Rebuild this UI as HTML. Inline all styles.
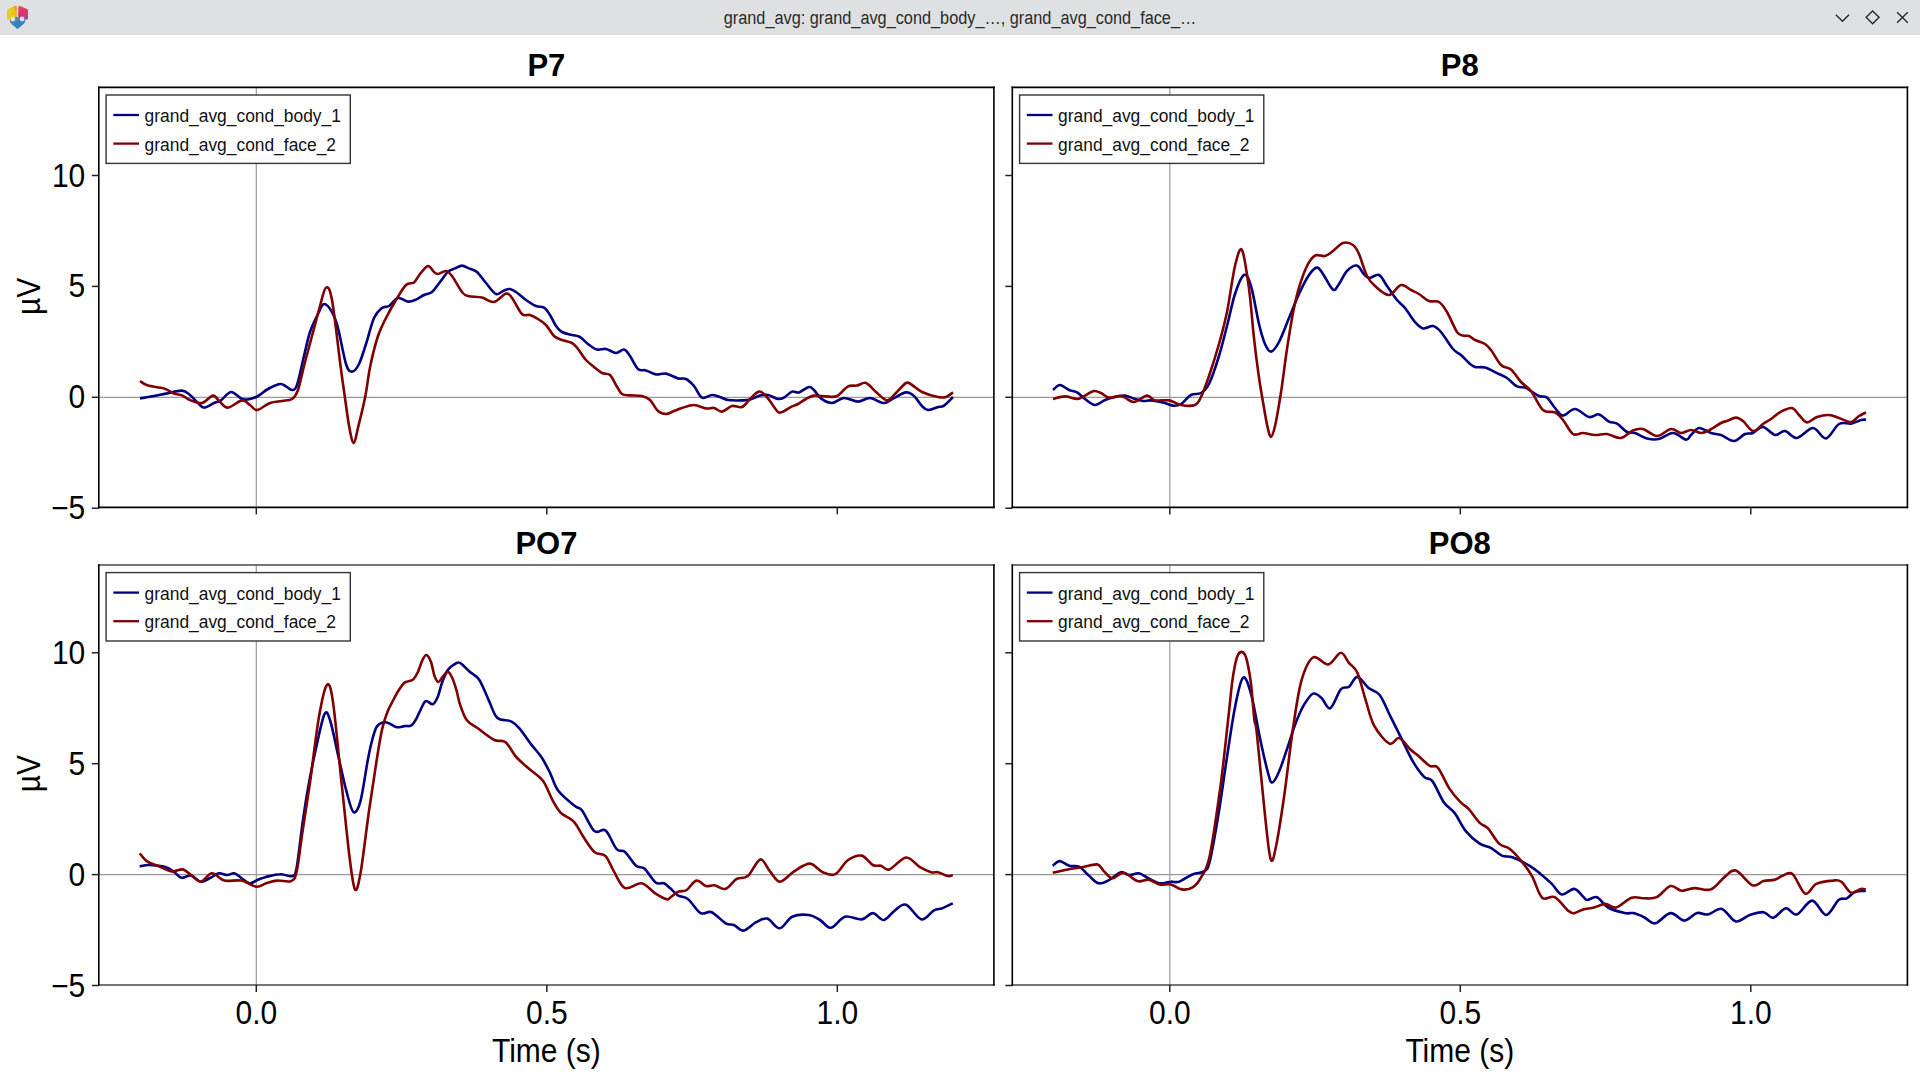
<!DOCTYPE html>
<html><head><meta charset="utf-8">
<style>
html,body{margin:0;padding:0;background:#fff;}
body{width:1920px;height:1080px;overflow:hidden;position:relative;font-family:"Liberation Sans", sans-serif;}
#tb{position:absolute;left:0;top:0;width:1920px;height:35px;background:#dfe0e2;}
#tt{position:absolute;left:0;top:1px;transform:scale(1,1.08);transform-origin:50% 22px;width:1920px;height:35px;line-height:35px;text-align:center;font-size:16.3px;color:#2a2a2a;font-family:"Liberation Sans", sans-serif;}
#plots{position:absolute;left:0;top:0;}
</style></head><body>
<div id="tb"><svg width="36" height="35" viewBox="0 0 36 35" style="position:absolute;left:0;top:0">
<defs>
<linearGradient id="gy" x1="0.2" y1="0.3" x2="1" y2="0"><stop offset="0" stop-color="#e9cf1c"/><stop offset="0.55" stop-color="#e6c51e"/><stop offset="1" stop-color="#ee7f3a"/></linearGradient>
<linearGradient id="gp" x1="0" y1="0" x2="0.3" y2="1"><stop offset="0" stop-color="#ec5a4c"/><stop offset="0.45" stop-color="#e2336a"/><stop offset="1" stop-color="#b8407e"/></linearGradient>
<linearGradient id="gb" x1="0" y1="0.3" x2="0.6" y2="1"><stop offset="0" stop-color="#6f9a4e"/><stop offset="0.35" stop-color="#3a86c4"/><stop offset="1" stop-color="#2f7fc2"/></linearGradient>
</defs>
<path d="M7,10.3 Q7,9.6 7.8,9.2 L14.6,6.1 Q16.9,5.4 16.9,7.2 L16.9,19.8 L9,19.8 Q7,19.8 7,18.6 Z" fill="url(#gy)"/>
<path d="M18.1,7.2 Q18.1,5.4 20.4,6.1 L27.2,9.2 Q28,9.6 28,10.3 L28,18.6 Q28,19.8 26,19.8 L18.1,19.8 Z" fill="url(#gp)"/>
<path d="M9.8,21.3 Q9.8,18.2 12,17.5 L17.5,16.8 L23,17.5 Q25.2,18.2 25.2,21.3 Q25.2,22.6 24,23.4 L18.3,28.4 Q17.5,29 16.7,28.4 L11,23.4 Q9.8,22.6 9.8,21.3 Z" fill="url(#gb)"/>
<circle cx="12.9" cy="19.1" r="2.4" fill="#dfe0e2"/>
<circle cx="22.1" cy="19.0" r="2.4" fill="#dfe0e2"/>
<circle cx="17.4" cy="11" r="0.9" fill="#dfe0e2"/>
<rect x="16.9" y="5" width="1.2" height="12" fill="#dfe0e2"/>
</svg><div id="tt">grand_avg: grand_avg_cond_body_…, grand_avg_cond_face_…</div><svg width="100" height="35" viewBox="0 0 100 35" style="position:absolute;left:1820px;top:0">
<path d="M15.8,14.7 L22.5,21.2 L29.0,14.7" fill="none" stroke="#232629" stroke-width="1.35"/>
<path d="M52.6,10.9 L59.1,17.35 L52.6,23.8 L46.1,17.35 Z" fill="none" stroke="#232629" stroke-width="1.35"/>
<path d="M77.1,12.3 L87.8,22.8 M87.8,12.3 L77.1,22.8" fill="none" stroke="#232629" stroke-width="1.35"/>
</svg></div>
<svg id="plots" width="1920" height="1080" viewBox="0 0 1920 1080" style="top:0" font-family='"Liberation Sans", sans-serif'>
<line x1="98.8" y1="397.3" x2="993.9" y2="397.3" stroke="#9a9a9a" stroke-width="1.2"/>
<line x1="256.3" y1="87.4" x2="256.3" y2="507.4" stroke="#9a9a9a" stroke-width="1.2"/>
<path d="M140.0,398.4 C142.3,398.0 149.7,396.8 154.0,396.0 C158.3,395.2 161.3,394.5 166.0,393.6 C170.7,392.7 178.0,390.4 182.0,390.6 C186.0,390.8 187.3,392.9 190.0,395.0 C192.7,397.1 195.7,400.9 198.0,403.0 C200.3,405.1 201.3,407.6 204.0,407.6 C206.7,407.6 211.2,404.2 214.0,403.0 C216.8,401.8 218.2,402.2 221.0,400.4 C223.8,398.6 227.5,392.2 231.0,392.0 C234.5,391.8 238.8,397.8 242.0,399.0 C245.2,400.2 247.3,399.5 250.0,399.0 C252.7,398.5 255.0,397.7 258.0,396.0 C261.0,394.3 264.3,391.0 268.0,389.0 C271.7,387.0 277.0,384.4 280.0,384.0 C283.0,383.6 284.0,385.4 286.0,386.4 C288.0,387.4 290.2,390.2 292.0,390.0 C293.8,389.8 295.0,390.7 297.0,385.0 C299.0,379.3 301.8,364.8 304.0,356.0 C306.2,347.2 307.7,339.0 310.0,332.0 C312.3,325.0 315.7,318.7 318.0,314.0 C320.3,309.3 321.7,304.3 324.0,304.0 C326.3,303.7 329.7,308.0 332.0,312.0 C334.3,316.0 335.7,319.3 338.0,328.0 C340.3,336.7 343.7,356.7 346.0,364.0 C348.3,371.3 349.8,371.6 352.0,371.6 C354.2,371.6 356.7,368.6 359.0,364.0 C361.3,359.4 363.5,351.7 366.0,344.0 C368.5,336.3 371.3,324.0 374.0,318.0 C376.7,312.0 379.5,310.0 382.0,308.0 C384.5,306.0 386.3,307.7 389.0,306.0 C391.7,304.3 394.8,298.7 398.0,298.0 C401.2,297.3 405.0,301.3 408.0,301.6 C411.0,301.9 413.3,300.7 416.0,299.6 C418.7,298.5 421.3,296.3 424.0,295.0 C426.7,293.7 429.3,294.2 432.0,292.0 C434.7,289.8 437.3,285.4 440.0,282.0 C442.7,278.6 445.5,273.9 448.0,271.6 C450.5,269.3 452.7,269.4 455.0,268.4 C457.3,267.4 459.7,265.6 462.0,265.6 C464.3,265.6 466.5,267.3 469.0,268.4 C471.5,269.5 474.2,269.6 477.0,272.0 C479.8,274.4 482.8,279.3 486.0,283.0 C489.2,286.7 493.0,292.8 496.0,294.0 C499.0,295.2 501.7,291.2 504.0,290.4 C506.3,289.6 508.0,288.7 510.0,289.0 C512.0,289.3 513.3,290.2 516.0,292.0 C518.7,293.8 522.7,297.7 526.0,300.0 C529.3,302.3 533.0,304.7 536.0,306.0 C539.0,307.3 541.7,306.1 544.0,307.6 C546.3,309.1 548.0,311.9 550.0,315.0 C552.0,318.1 554.0,323.2 556.0,326.0 C558.0,328.8 559.3,330.5 562.0,332.0 C564.7,333.5 569.0,334.2 572.0,335.0 C575.0,335.8 577.3,335.5 580.0,337.0 C582.7,338.5 585.2,341.9 588.0,344.0 C590.8,346.1 594.0,348.8 597.0,349.6 C600.0,350.4 602.8,348.4 606.0,349.0 C609.2,349.6 613.0,352.9 616.0,353.0 C619.0,353.1 621.7,349.1 624.0,349.6 C626.3,350.1 627.7,352.8 630.0,356.0 C632.3,359.2 635.3,366.6 638.0,369.0 C640.7,371.4 643.0,369.5 646.0,370.4 C649.0,371.3 652.7,373.9 656.0,374.4 C659.3,374.9 662.3,372.9 666.0,373.6 C669.7,374.3 674.7,377.5 678.0,378.4 C681.3,379.3 683.3,377.7 686.0,379.0 C688.7,380.3 691.3,382.9 694.0,386.0 C696.7,389.1 699.0,396.1 702.0,397.6 C705.0,399.1 709.0,395.1 712.0,395.0 C715.0,394.9 717.3,396.2 720.0,397.0 C722.7,397.8 724.3,399.4 728.0,400.0 C731.7,400.6 738.3,400.5 742.0,400.4 C745.7,400.3 747.0,400.4 750.0,399.6 C753.0,398.8 757.0,396.4 760.0,395.6 C763.0,394.8 765.0,394.4 768.0,395.0 C771.0,395.6 775.3,398.6 778.0,399.0 C780.7,399.4 781.7,398.8 784.0,397.6 C786.3,396.4 789.5,392.5 792.0,391.6 C794.5,390.7 796.2,393.2 799.0,392.4 C801.8,391.6 806.5,387.4 809.0,387.0 C811.5,386.6 812.0,388.1 814.0,390.0 C816.0,391.9 818.0,396.2 821.0,398.4 C824.0,400.6 828.2,403.1 832.0,403.0 C835.8,402.9 839.7,398.2 844.0,398.0 C848.3,397.8 853.7,401.6 858.0,401.6 C862.3,401.6 865.7,397.8 870.0,398.0 C874.3,398.2 880.0,403.0 884.0,403.0 C888.0,403.0 890.3,399.8 894.0,398.0 C897.7,396.2 902.7,392.7 906.0,392.4 C909.3,392.1 911.3,393.7 914.0,396.0 C916.7,398.3 919.7,403.7 922.0,406.0 C924.3,408.3 925.3,409.8 928.0,410.0 C930.7,410.2 935.3,407.7 938.0,407.0 C940.7,406.3 941.5,407.3 944.0,405.6 C946.5,403.9 951.5,398.4 953.0,397.0" fill="none" stroke="#000080" stroke-width="2.6" stroke-linejoin="round"/>
<path d="M140.0,381.0 C141.3,381.8 144.0,384.4 148.0,385.6 C152.0,386.8 159.7,387.1 164.0,388.4 C168.3,389.7 171.0,392.4 174.0,393.6 C177.0,394.8 179.3,394.3 182.0,395.4 C184.7,396.5 186.7,398.7 190.0,400.0 C193.3,401.3 198.2,403.7 202.0,403.0 C205.8,402.3 210.0,395.8 213.0,395.6 C216.0,395.4 217.5,400.0 220.0,402.0 C222.5,404.0 224.3,407.9 228.0,407.6 C231.7,407.3 238.3,400.8 242.0,400.4 C245.7,400.0 247.5,403.4 250.0,405.0 C252.5,406.6 253.7,410.3 257.0,410.0 C260.3,409.7 265.8,404.5 270.0,403.0 C274.2,401.5 278.3,401.7 282.0,401.0 C285.7,400.3 289.3,400.8 292.0,399.0 C294.7,397.2 296.0,395.5 298.0,390.0 C300.0,384.5 301.7,375.0 304.0,366.0 C306.3,357.0 309.3,346.0 312.0,336.0 C314.7,326.0 317.7,314.1 320.0,306.0 C322.3,297.9 324.0,288.6 326.0,287.6 C328.0,286.6 329.6,287.0 332.0,300.0 C334.4,313.0 338.4,349.4 340.5,365.6 C342.6,381.8 343.4,387.0 344.9,397.3 C346.4,407.6 347.8,419.7 349.3,427.3 C350.8,434.9 352.2,443.1 353.7,443.1 C355.2,443.1 356.2,434.9 358.1,427.3 C360.0,419.7 363.1,407.6 365.1,397.3 C367.2,387.0 368.2,375.8 370.4,365.6 C372.5,355.4 375.4,343.9 378.0,336.0 C380.6,328.1 383.0,324.0 386.0,318.0 C389.0,312.0 392.7,305.5 396.0,300.0 C399.3,294.5 403.0,287.9 406.0,285.0 C409.0,282.1 411.7,284.2 414.0,282.4 C416.3,280.6 417.7,276.7 420.0,274.0 C422.3,271.3 425.7,266.3 428.0,266.0 C430.3,265.7 432.3,270.7 434.0,272.0 C435.7,273.3 436.0,274.2 438.0,274.0 C440.0,273.8 443.7,270.7 446.0,271.0 C448.3,271.3 449.3,272.5 452.0,276.0 C454.7,279.5 459.3,288.7 462.0,292.0 C464.7,295.3 464.7,295.1 468.0,296.0 C471.3,296.9 477.7,296.6 482.0,297.6 C486.3,298.6 490.0,302.7 494.0,302.0 C498.0,301.3 503.0,294.3 506.0,293.6 C509.0,292.9 509.3,294.6 512.0,298.0 C514.7,301.4 519.0,311.2 522.0,314.0 C525.0,316.8 527.3,314.2 530.0,315.0 C532.7,315.8 535.3,317.3 538.0,319.0 C540.7,320.7 543.3,322.2 546.0,325.0 C548.7,327.8 551.3,333.5 554.0,336.0 C556.7,338.5 559.0,338.8 562.0,340.0 C565.0,341.2 569.3,341.5 572.0,343.0 C574.7,344.5 575.7,346.2 578.0,349.0 C580.3,351.8 583.3,357.0 586.0,360.0 C588.7,363.0 591.3,364.8 594.0,367.0 C596.7,369.2 599.3,371.7 602.0,373.0 C604.7,374.3 607.7,373.0 610.0,375.0 C612.3,377.0 614.0,381.8 616.0,385.0 C618.0,388.2 619.7,392.3 622.0,394.0 C624.3,395.7 626.7,395.1 630.0,395.4 C633.3,395.7 638.7,395.2 642.0,396.0 C645.3,396.8 647.3,397.5 650.0,400.0 C652.7,402.5 655.3,408.7 658.0,411.0 C660.7,413.3 663.3,414.0 666.0,414.0 C668.7,414.0 671.3,412.0 674.0,411.0 C676.7,410.0 678.7,409.0 682.0,408.0 C685.3,407.0 690.0,404.9 694.0,405.0 C698.0,405.1 702.7,407.9 706.0,408.4 C709.3,408.9 711.3,407.5 714.0,408.0 C716.7,408.5 719.0,411.9 722.0,411.6 C725.0,411.3 728.7,406.8 732.0,406.0 C735.3,405.2 739.0,408.2 742.0,407.0 C745.0,405.8 747.2,401.6 750.0,399.0 C752.8,396.4 756.3,392.1 759.0,391.6 C761.7,391.1 763.8,393.9 766.0,396.0 C768.2,398.1 770.0,401.3 772.0,404.0 C774.0,406.7 776.3,410.7 778.0,412.0 C779.7,413.3 779.7,412.9 782.0,412.0 C784.3,411.1 789.3,407.7 792.0,406.4 C794.7,405.1 795.7,405.2 798.0,404.0 C800.3,402.8 803.3,400.4 806.0,399.0 C808.7,397.6 810.7,396.0 814.0,395.6 C817.3,395.2 822.2,396.3 826.0,396.4 C829.8,396.5 833.3,397.7 837.0,396.0 C840.7,394.3 844.7,388.1 848.0,386.4 C851.3,384.7 854.0,386.2 857.0,385.6 C860.0,385.0 862.8,381.9 866.0,383.0 C869.2,384.1 872.5,389.1 876.0,392.0 C879.5,394.9 883.8,400.1 887.0,400.4 C890.2,400.7 891.8,396.9 895.0,394.0 C898.2,391.1 903.2,384.5 906.0,383.0 C908.8,381.5 909.3,383.5 912.0,385.0 C914.7,386.5 917.7,390.0 922.0,392.0 C926.3,394.0 934.0,396.2 938.0,397.0 C942.0,397.8 943.5,397.8 946.0,397.0 C948.5,396.2 951.8,393.2 953.0,392.4" fill="none" stroke="#800000" stroke-width="2.6" stroke-linejoin="round"/>
<path d="M98.8,87.4 H993.9 M98.8,507.4 H993.9" stroke="#000" stroke-width="1.6" stroke-linecap="square"/>
<path d="M98.8,87.4 V507.4 M993.9,87.4 V507.4" stroke="#000" stroke-width="1.6" stroke-linecap="square"/>
<line x1="91.8" y1="175.5" x2="98.8" y2="175.5" stroke="#222" stroke-width="1.5"/>
<text transform="translate(85.3,186.5) scale(1,1.09)" text-anchor="end" font-size="30" fill="#000">10</text>
<line x1="91.8" y1="286.4" x2="98.8" y2="286.4" stroke="#222" stroke-width="1.5"/>
<text transform="translate(85.3,297.4) scale(1,1.09)" text-anchor="end" font-size="30" fill="#000">5</text>
<line x1="91.8" y1="397.3" x2="98.8" y2="397.3" stroke="#222" stroke-width="1.5"/>
<text transform="translate(85.3,408.3) scale(1,1.09)" text-anchor="end" font-size="30" fill="#000">0</text>
<line x1="91.8" y1="508.2" x2="98.8" y2="508.2" stroke="#222" stroke-width="1.5"/>
<text transform="translate(85.3,519.2) scale(1,1.09)" text-anchor="end" font-size="30" fill="#000">−5</text>
<line x1="256.3" y1="507.4" x2="256.3" y2="514.4" stroke="#222" stroke-width="1.5"/>
<line x1="546.8" y1="507.4" x2="546.8" y2="514.4" stroke="#222" stroke-width="1.5"/>
<line x1="837.3" y1="507.4" x2="837.3" y2="514.4" stroke="#222" stroke-width="1.5"/>
<text x="0" y="0" transform="translate(39.5,296.3) rotate(-90) scale(1,1.09)" text-anchor="middle" font-size="30" fill="#000">µV</text>
<text x="546.4" y="76.4" text-anchor="middle" font-size="31" font-weight="bold" fill="#000">P7</text>
<rect x="106.1" y="95.0" width="244.2" height="68.4" fill="#fff" stroke="#333" stroke-width="1.4"/>
<line x1="113.3" y1="115.0" x2="139.0" y2="115.0" stroke="#000080" stroke-width="2.3"/>
<line x1="113.3" y1="143.6" x2="139.0" y2="143.6" stroke="#800000" stroke-width="2.3"/>
<text transform="translate(144.6,121.9) scale(1,1.09)" font-size="17.4" fill="#111">grand_avg_cond_body_1</text>
<text transform="translate(144.6,150.5) scale(1,1.09)" font-size="17.4" fill="#111">grand_avg_cond_face_2</text>
<line x1="1012.3" y1="397.3" x2="1907.4" y2="397.3" stroke="#9a9a9a" stroke-width="1.2"/>
<line x1="1169.8" y1="87.4" x2="1169.8" y2="507.4" stroke="#9a9a9a" stroke-width="1.2"/>
<path d="M1053.0,390.0 C1054.2,389.2 1057.3,385.0 1060.0,385.0 C1062.7,385.0 1066.2,388.8 1069.0,390.0 C1071.8,391.2 1074.3,390.9 1077.0,392.4 C1079.7,393.9 1082.0,396.9 1085.0,399.0 C1088.0,401.1 1091.7,404.8 1095.0,405.0 C1098.3,405.2 1101.7,401.3 1105.0,400.0 C1108.3,398.7 1111.7,397.7 1115.0,397.0 C1118.3,396.3 1121.7,395.3 1125.0,395.6 C1128.3,395.9 1132.0,398.1 1135.0,399.0 C1138.0,399.9 1140.3,400.8 1143.0,401.0 C1145.7,401.2 1147.7,400.2 1151.0,400.4 C1154.3,400.6 1159.3,401.5 1163.0,402.4 C1166.7,403.3 1170.0,405.3 1173.0,405.6 C1176.0,405.9 1178.0,405.8 1181.0,404.0 C1184.0,402.2 1187.7,396.8 1191.0,395.0 C1194.3,393.2 1198.0,394.8 1201.0,393.0 C1204.0,391.2 1206.0,390.2 1209.0,384.0 C1212.0,377.8 1216.0,365.7 1219.0,356.0 C1222.0,346.3 1224.3,336.3 1227.0,326.0 C1229.7,315.7 1232.2,302.5 1235.0,294.0 C1237.8,285.5 1241.3,276.3 1244.0,275.0 C1246.7,273.7 1248.5,277.8 1251.0,286.0 C1253.5,294.2 1256.7,314.3 1259.0,324.0 C1261.3,333.7 1263.0,339.4 1265.0,344.0 C1267.0,348.6 1268.7,351.9 1271.0,351.6 C1273.3,351.3 1276.0,347.6 1279.0,342.0 C1282.0,336.4 1285.7,326.0 1289.0,318.0 C1292.3,310.0 1295.7,301.2 1299.0,294.0 C1302.3,286.8 1306.0,279.4 1309.0,275.0 C1312.0,270.6 1314.7,267.8 1317.0,267.6 C1319.3,267.4 1320.3,270.3 1323.0,274.0 C1325.7,277.7 1330.3,287.9 1333.0,289.6 C1335.7,291.3 1336.7,287.1 1339.0,284.0 C1341.3,280.9 1344.0,274.1 1347.0,271.0 C1350.0,267.9 1354.3,265.3 1357.0,265.6 C1359.7,265.9 1361.0,270.9 1363.0,273.0 C1365.0,275.1 1366.3,277.7 1369.0,278.0 C1371.7,278.3 1376.0,273.7 1379.0,275.0 C1382.0,276.3 1384.0,281.8 1387.0,286.0 C1390.0,290.2 1394.0,296.3 1397.0,300.0 C1400.0,303.7 1402.0,304.3 1405.0,308.0 C1408.0,311.7 1412.0,318.6 1415.0,322.0 C1418.0,325.4 1420.0,327.7 1423.0,328.4 C1426.0,329.1 1430.0,325.4 1433.0,326.0 C1436.0,326.6 1437.7,328.2 1441.0,332.0 C1444.3,335.8 1449.7,345.2 1453.0,349.0 C1456.3,352.8 1458.3,352.7 1461.0,355.0 C1463.7,357.3 1466.7,361.0 1469.0,363.0 C1471.3,365.0 1472.3,366.2 1475.0,367.0 C1477.7,367.8 1481.0,366.4 1485.0,367.6 C1489.0,368.8 1495.3,372.3 1499.0,374.0 C1502.7,375.7 1504.0,375.9 1507.0,378.0 C1510.0,380.1 1514.0,384.8 1517.0,386.4 C1520.0,388.0 1522.7,386.8 1525.0,387.6 C1527.3,388.4 1528.7,389.6 1531.0,391.0 C1533.3,392.4 1536.3,394.9 1539.0,396.0 C1541.7,397.1 1544.3,395.6 1547.0,397.6 C1549.7,399.6 1552.3,405.0 1555.0,408.0 C1557.7,411.0 1559.7,415.4 1563.0,415.6 C1566.3,415.8 1570.7,408.8 1575.0,409.0 C1579.3,409.2 1585.0,416.1 1589.0,417.0 C1593.0,417.9 1595.7,413.6 1599.0,414.4 C1602.3,415.2 1606.0,420.1 1609.0,421.6 C1612.0,423.1 1614.0,421.9 1617.0,423.6 C1620.0,425.3 1624.0,430.4 1627.0,432.0 C1630.0,433.6 1631.7,431.9 1635.0,433.0 C1638.3,434.1 1643.0,437.4 1647.0,438.4 C1651.0,439.4 1654.7,439.9 1659.0,439.0 C1663.3,438.1 1668.5,432.9 1673.0,433.0 C1677.5,433.1 1683.0,439.3 1686.0,439.6 C1689.0,439.9 1688.8,436.9 1691.0,435.0 C1693.2,433.1 1695.7,428.3 1699.0,428.0 C1702.3,427.7 1707.3,431.8 1711.0,433.0 C1714.7,434.2 1717.2,433.7 1721.0,435.0 C1724.8,436.3 1730.0,441.2 1734.0,441.0 C1738.0,440.8 1741.8,435.3 1745.0,434.0 C1748.2,432.7 1750.0,434.2 1753.0,433.0 C1756.0,431.8 1759.3,426.7 1763.0,427.0 C1766.7,427.3 1771.3,434.3 1775.0,435.0 C1778.7,435.7 1781.3,430.5 1785.0,431.0 C1788.7,431.5 1792.3,438.5 1797.0,438.0 C1801.7,437.5 1808.2,427.9 1813.0,428.0 C1817.8,428.1 1821.7,439.1 1826.0,438.4 C1830.3,437.7 1834.8,426.5 1839.0,424.0 C1843.2,421.5 1847.3,424.3 1851.0,423.6 C1854.7,422.9 1858.5,420.7 1861.0,420.0 C1863.5,419.3 1865.2,419.7 1866.0,419.6" fill="none" stroke="#000080" stroke-width="2.6" stroke-linejoin="round"/>
<path d="M1053.0,399.0 C1055.0,398.6 1061.0,396.4 1065.0,396.4 C1069.0,396.4 1073.7,399.1 1077.0,399.0 C1080.3,398.9 1082.2,396.9 1085.0,395.6 C1087.8,394.3 1091.3,391.4 1094.0,391.0 C1096.7,390.6 1098.5,391.9 1101.0,393.0 C1103.5,394.1 1106.0,397.1 1109.0,397.6 C1112.0,398.1 1116.3,396.0 1119.0,396.0 C1121.7,396.0 1122.5,396.6 1125.0,397.6 C1127.5,398.6 1130.3,402.3 1134.0,402.0 C1137.7,401.7 1143.5,395.9 1147.0,395.6 C1150.5,395.3 1151.3,399.6 1155.0,400.4 C1158.7,401.2 1164.7,399.6 1169.0,400.4 C1173.3,401.2 1176.7,404.2 1181.0,405.0 C1185.3,405.8 1191.7,406.3 1195.0,405.0 C1198.3,403.7 1198.7,401.8 1201.0,397.0 C1203.3,392.2 1206.0,384.8 1209.0,376.0 C1212.0,367.2 1216.0,354.7 1219.0,344.0 C1222.0,333.3 1224.3,325.0 1227.0,312.0 C1229.7,299.0 1232.5,276.3 1235.0,266.0 C1237.5,255.7 1239.7,246.2 1242.0,250.0 C1244.3,253.8 1247.0,274.1 1249.0,288.6 C1251.0,303.2 1252.3,322.7 1253.9,337.3 C1255.5,351.9 1257.2,364.9 1258.8,376.2 C1260.4,387.5 1262.1,397.0 1263.6,405.4 C1265.0,413.8 1266.3,421.6 1267.5,426.8 C1268.7,432.1 1269.7,437.2 1271.0,436.9 C1272.3,436.6 1273.6,432.3 1275.3,424.8 C1277.0,417.3 1279.1,404.4 1281.1,391.8 C1283.0,379.2 1285.0,362.0 1287.0,349.0 C1289.0,336.0 1290.8,324.0 1292.8,313.9 C1294.8,303.8 1296.3,296.6 1298.7,288.6 C1301.1,280.6 1304.3,271.5 1307.0,266.0 C1309.7,260.5 1312.0,257.3 1315.0,255.6 C1318.0,253.9 1322.0,256.8 1325.0,256.0 C1328.0,255.2 1330.0,253.2 1333.0,251.0 C1336.0,248.8 1339.7,244.0 1343.0,243.0 C1346.3,242.0 1350.3,243.2 1353.0,245.0 C1355.7,246.8 1356.7,248.8 1359.0,254.0 C1361.3,259.2 1364.3,270.7 1367.0,276.0 C1369.7,281.3 1371.3,282.8 1375.0,286.0 C1378.7,289.2 1384.7,295.2 1389.0,295.0 C1393.3,294.8 1397.3,285.8 1401.0,285.0 C1404.7,284.2 1408.0,288.5 1411.0,290.0 C1414.0,291.5 1416.0,292.2 1419.0,294.0 C1422.0,295.8 1425.7,299.7 1429.0,301.0 C1432.3,302.3 1436.0,300.2 1439.0,302.0 C1442.0,303.8 1444.0,307.0 1447.0,312.0 C1450.0,317.0 1454.3,328.1 1457.0,332.0 C1459.7,335.9 1461.0,334.9 1463.0,335.6 C1465.0,336.3 1467.0,335.3 1469.0,336.0 C1471.0,336.7 1472.3,338.7 1475.0,340.0 C1477.7,341.3 1482.3,342.3 1485.0,344.0 C1487.7,345.7 1488.3,346.5 1491.0,350.0 C1493.7,353.5 1497.7,361.7 1501.0,365.0 C1504.3,368.3 1507.7,366.8 1511.0,369.6 C1514.3,372.4 1517.7,378.4 1521.0,382.0 C1524.3,385.6 1527.3,386.3 1531.0,391.0 C1534.7,395.7 1539.0,406.4 1543.0,410.0 C1547.0,413.6 1551.7,410.7 1555.0,412.4 C1558.3,414.1 1560.0,416.4 1563.0,420.0 C1566.0,423.6 1569.7,431.8 1573.0,434.0 C1576.3,436.2 1579.3,432.8 1583.0,433.0 C1586.7,433.2 1591.0,434.8 1595.0,435.0 C1599.0,435.2 1602.7,433.5 1607.0,434.0 C1611.3,434.5 1616.7,438.6 1621.0,438.0 C1625.3,437.4 1629.3,431.9 1633.0,430.4 C1636.7,428.9 1639.0,428.1 1643.0,429.0 C1647.0,429.9 1652.3,436.0 1657.0,436.0 C1661.7,436.0 1667.0,429.5 1671.0,429.0 C1675.0,428.5 1677.7,432.8 1681.0,433.0 C1684.3,433.2 1687.7,430.0 1691.0,430.0 C1694.3,430.0 1698.0,432.9 1701.0,433.0 C1704.0,433.1 1705.7,432.1 1709.0,430.4 C1712.3,428.7 1718.0,424.6 1721.0,423.0 C1724.0,421.4 1724.5,421.9 1727.0,421.0 C1729.5,420.1 1733.3,417.6 1736.0,417.6 C1738.7,417.6 1740.2,418.8 1743.0,421.0 C1745.8,423.2 1749.7,430.5 1753.0,431.0 C1756.3,431.5 1760.0,426.0 1763.0,424.0 C1766.0,422.0 1768.0,421.1 1771.0,419.0 C1774.0,416.9 1777.5,413.4 1781.0,411.6 C1784.5,409.8 1789.0,407.4 1792.0,408.0 C1795.0,408.6 1796.5,412.6 1799.0,415.0 C1801.5,417.4 1804.0,422.1 1807.0,422.4 C1810.0,422.7 1813.3,418.2 1817.0,417.0 C1820.7,415.8 1825.3,414.8 1829.0,415.0 C1832.7,415.2 1835.3,416.8 1839.0,418.0 C1842.7,419.2 1847.7,422.3 1851.0,422.0 C1854.3,421.7 1856.5,417.6 1859.0,416.0 C1861.5,414.4 1864.8,413.0 1866.0,412.4" fill="none" stroke="#800000" stroke-width="2.6" stroke-linejoin="round"/>
<path d="M1012.3,87.4 H1907.4 M1012.3,507.4 H1907.4" stroke="#000" stroke-width="1.6" stroke-linecap="square"/>
<path d="M1012.3,87.4 V507.4 M1907.4,87.4 V507.4" stroke="#000" stroke-width="1.6" stroke-linecap="square"/>
<line x1="1005.3" y1="175.5" x2="1012.3" y2="175.5" stroke="#222" stroke-width="1.5"/>
<line x1="1005.3" y1="286.4" x2="1012.3" y2="286.4" stroke="#222" stroke-width="1.5"/>
<line x1="1005.3" y1="397.3" x2="1012.3" y2="397.3" stroke="#222" stroke-width="1.5"/>
<line x1="1005.3" y1="508.2" x2="1012.3" y2="508.2" stroke="#222" stroke-width="1.5"/>
<line x1="1169.8" y1="507.4" x2="1169.8" y2="514.4" stroke="#222" stroke-width="1.5"/>
<line x1="1460.3" y1="507.4" x2="1460.3" y2="514.4" stroke="#222" stroke-width="1.5"/>
<line x1="1750.8" y1="507.4" x2="1750.8" y2="514.4" stroke="#222" stroke-width="1.5"/>
<text x="1459.8" y="76.4" text-anchor="middle" font-size="31" font-weight="bold" fill="#000">P8</text>
<rect x="1019.6" y="95.0" width="244.2" height="68.4" fill="#fff" stroke="#333" stroke-width="1.4"/>
<line x1="1026.8" y1="115.0" x2="1052.5" y2="115.0" stroke="#000080" stroke-width="2.3"/>
<line x1="1026.8" y1="143.6" x2="1052.5" y2="143.6" stroke="#800000" stroke-width="2.3"/>
<text transform="translate(1058.1,121.9) scale(1,1.09)" font-size="17.4" fill="#111">grand_avg_cond_body_1</text>
<text transform="translate(1058.1,150.5) scale(1,1.09)" font-size="17.4" fill="#111">grand_avg_cond_face_2</text>
<line x1="98.8" y1="874.6" x2="993.9" y2="874.6" stroke="#9a9a9a" stroke-width="1.2"/>
<line x1="256.3" y1="565.0" x2="256.3" y2="985.0" stroke="#9a9a9a" stroke-width="1.2"/>
<path d="M139.7,866.4 C141.3,866.2 145.0,864.9 149.4,865.0 C153.8,865.1 161.9,866.0 166.1,867.2 C170.3,868.4 171.9,870.5 174.4,872.2 C177.0,874.0 178.6,877.2 181.4,877.8 C184.2,878.3 187.9,874.9 191.1,875.6 C194.4,876.2 197.6,881.3 200.8,881.7 C204.1,882.0 207.5,879.2 210.6,877.8 C213.6,876.4 216.1,873.8 218.9,873.3 C221.7,872.9 224.7,875.0 227.2,875.0 C229.8,875.0 231.9,872.9 234.2,873.3 C236.5,873.8 238.6,876.1 241.1,877.8 C243.7,879.4 246.7,883.0 249.4,883.3 C252.2,883.7 255.0,880.8 257.8,879.7 C260.6,878.7 262.4,877.9 266.1,876.9 C269.8,876.0 275.6,874.3 280.0,874.2 C284.4,874.0 289.7,877.3 292.5,876.1 C295.3,875.0 295.0,875.6 296.7,867.2 C298.3,858.8 300.4,838.5 302.2,825.6 C304.1,812.6 305.5,802.4 307.8,789.4 C310.1,776.5 313.3,760.3 316.1,747.8 C318.9,735.3 322.1,719.1 324.4,714.4 C326.8,709.8 327.7,713.1 330.0,720.0 C332.3,726.9 335.6,744.1 338.3,756.1 C341.1,768.1 344.1,782.9 346.7,792.2 C349.2,801.6 351.3,810.8 353.6,812.2 C355.9,813.6 358.2,809.3 360.6,800.6 C362.9,791.9 365.9,770.1 367.8,760.0 C369.7,749.9 370.7,745.5 372.2,740.0 C373.7,734.5 374.8,729.7 376.7,726.7 C378.6,723.7 381.3,722.8 383.3,722.2 C385.3,721.6 386.7,722.5 388.9,723.3 C391.1,724.1 394.1,726.7 396.7,727.2 C399.3,727.7 402.0,726.4 404.4,726.1 C406.8,725.8 409.2,726.6 411.1,725.6 C413.0,724.6 414.1,722.4 415.6,720.0 C417.1,717.6 418.3,714.2 420.0,711.1 C421.7,708.0 423.5,702.2 425.6,701.1 C427.7,700.0 430.8,704.9 432.8,704.2 C434.8,703.5 436.2,700.4 437.8,696.7 C439.4,693.0 440.5,686.7 442.2,682.2 C443.9,677.8 445.8,673.0 447.8,670.0 C449.8,667.0 452.4,665.6 454.4,664.4 C456.4,663.2 457.5,661.6 460.0,662.8 C462.5,664.0 466.2,668.6 469.4,671.4 C472.6,674.2 475.9,674.9 479.2,679.7 C482.4,684.6 485.9,694.2 488.9,700.6 C491.9,706.9 493.5,714.3 497.2,717.8 C500.9,721.2 507.4,719.6 511.1,721.4 C514.8,723.1 516.2,724.6 519.4,728.3 C522.7,732.0 526.9,738.8 530.6,743.6 C534.3,748.5 538.4,752.6 541.7,757.5 C544.9,762.4 547.2,767.2 550.0,772.8 C552.8,778.3 554.2,785.3 558.3,790.8 C562.5,796.4 571.1,802.9 575.0,806.1 C578.9,809.4 578.7,806.1 581.9,810.3 C585.2,814.4 590.5,827.7 594.4,831.1 C598.4,834.5 601.9,827.5 605.6,830.6 C609.3,833.6 613.4,845.6 616.7,849.2 C619.9,852.7 621.8,849.2 625.0,851.9 C628.2,854.7 632.9,863.1 636.1,865.8 C639.4,868.6 641.2,865.8 644.4,868.6 C647.7,871.4 652.3,880.0 655.6,882.5 C658.8,885.0 661.5,882.4 663.9,883.3 C666.3,884.3 667.6,886.0 670.0,888.1 C672.4,890.1 675.3,893.7 678.3,895.6 C681.3,897.4 684.4,896.2 688.1,899.2 C691.8,902.1 696.6,910.9 700.6,913.1 C704.5,915.2 707.5,910.5 711.7,912.2 C715.8,913.9 721.9,921.2 725.6,923.3 C729.3,925.5 730.9,923.8 733.9,925.0 C736.9,926.2 739.9,931.0 743.6,930.6 C747.3,930.1 752.2,924.2 756.1,922.2 C760.0,920.2 763.3,917.6 767.2,918.6 C771.2,919.6 775.6,928.7 779.7,928.3 C783.9,928.0 787.4,918.9 792.2,916.7 C797.1,914.4 804.3,914.4 808.9,915.0 C813.5,915.6 816.3,917.9 820.0,920.0 C823.7,922.1 826.9,928.3 831.1,927.8 C835.3,927.2 839.9,918.1 845.0,916.7 C850.1,915.3 857.0,920.0 861.7,919.4 C866.3,918.8 869.1,913.0 872.8,913.1 C876.5,913.1 880.2,920.5 883.9,920.0 C887.6,919.5 891.3,912.8 895.0,910.3 C898.7,907.7 901.7,903.2 906.1,904.7 C910.5,906.2 916.8,918.5 921.4,919.4 C926.0,920.4 930.4,912.1 933.9,910.3 C937.4,908.4 939.1,909.5 942.2,908.3 C945.4,907.2 951.0,904.2 952.8,903.3" fill="none" stroke="#000080" stroke-width="2.6" stroke-linejoin="round"/>
<path d="M139.7,853.3 C140.9,854.6 143.7,859.0 146.7,861.1 C149.7,863.2 153.6,864.1 157.8,865.8 C161.9,867.5 167.5,870.8 171.7,871.4 C175.8,872.0 179.5,868.8 182.8,869.4 C186.0,870.0 188.1,873.0 191.1,875.0 C194.1,877.0 197.4,881.9 200.8,881.7 C204.3,881.4 208.0,873.5 211.9,873.3 C215.9,873.1 219.6,879.4 224.4,880.6 C229.3,881.8 235.8,879.5 241.1,880.6 C246.4,881.6 252.2,886.2 256.4,886.7 C260.6,887.1 262.6,884.4 266.1,883.3 C269.6,882.3 273.1,880.9 277.2,880.6 C281.4,880.2 287.9,882.6 291.1,881.1 C294.4,879.6 294.8,879.3 296.7,871.4 C298.5,863.5 299.9,849.4 302.2,833.9 C304.5,818.4 307.8,797.8 310.6,778.3 C313.3,758.9 316.2,732.7 318.9,717.2 C321.6,701.7 324.4,688.1 326.7,685.3 C329.0,682.5 330.4,685.0 332.8,700.6 C335.2,716.1 338.3,752.4 341.1,778.3 C343.9,804.3 347.1,837.6 349.4,856.1 C351.8,874.6 353.1,886.7 355.0,889.4 C356.9,892.2 358.2,885.7 360.6,872.8 C362.9,859.8 366.2,830.5 368.9,811.7 C371.6,792.9 374.5,773.8 376.7,760.0 C378.9,746.2 380.3,737.0 382.2,728.9 C384.1,720.8 385.9,715.9 387.8,711.1 C389.7,706.3 391.5,703.5 393.3,700.0 C395.1,696.5 397.0,692.9 398.9,690.0 C400.8,687.1 402.7,684.3 404.4,682.8 C406.1,681.3 407.4,681.7 408.9,681.1 C410.4,680.5 411.8,680.9 413.3,679.4 C414.8,677.9 416.3,675.3 417.8,672.2 C419.3,669.1 420.8,663.5 422.2,660.6 C423.6,657.7 424.9,654.7 426.4,655.0 C427.9,655.3 429.8,658.8 431.1,662.2 C432.4,665.6 433.2,672.3 434.4,675.6 C435.6,678.9 436.9,681.8 438.3,682.0 C439.7,682.2 441.2,678.4 442.8,676.7 C444.4,675.0 446.2,671.5 447.8,671.7 C449.4,671.9 450.7,674.6 452.2,677.8 C453.7,681.0 455.4,686.7 456.7,691.1 C458.0,695.5 458.3,699.6 460.0,704.4 C461.7,709.2 463.7,716.0 466.7,720.0 C469.6,724.0 473.1,725.0 477.8,728.3 C482.4,731.7 489.8,737.7 494.4,740.0 C499.1,742.3 501.9,739.3 505.6,742.2 C509.3,745.1 512.5,752.9 516.7,757.5 C520.8,762.1 526.2,766.1 530.6,770.0 C535.0,773.9 539.4,776.0 543.1,781.1 C546.8,786.2 549.8,795.2 552.8,800.6 C555.8,805.9 557.6,809.6 561.1,813.1 C564.6,816.5 569.9,817.5 573.6,821.4 C577.3,825.3 579.9,831.6 583.3,836.7 C586.8,841.8 590.7,848.7 594.4,851.9 C598.1,855.2 602.3,852.9 605.6,856.1 C608.8,859.4 610.6,866.1 613.9,871.4 C617.1,876.7 620.4,886.1 625.0,888.1 C629.6,890.0 636.6,882.4 641.7,883.3 C646.8,884.3 651.4,891.0 655.6,893.6 C659.7,896.2 664.3,898.5 666.7,899.2 C669.1,899.9 668.1,899.0 670.0,897.8 C671.9,896.5 675.6,893.0 678.3,891.7 C681.1,890.4 683.7,891.9 686.7,890.0 C689.7,888.1 693.1,881.2 696.4,880.6 C699.6,879.9 703.1,885.3 706.1,886.1 C709.1,886.9 711.2,884.8 714.4,885.3 C717.7,885.7 721.9,890.0 725.6,888.9 C729.3,887.8 733.0,881.0 736.7,878.9 C740.4,876.8 743.8,879.4 747.8,876.1 C751.7,872.9 756.6,860.2 760.3,859.4 C764.0,858.7 766.8,867.7 770.0,871.4 C773.2,875.1 776.0,881.4 779.7,881.7 C783.4,881.9 788.3,875.4 792.2,872.8 C796.2,870.1 800.1,867.3 803.3,865.8 C806.6,864.4 808.4,862.8 811.7,863.9 C814.9,865.0 818.8,870.5 822.8,872.2 C826.7,873.9 831.1,876.2 835.3,874.2 C839.4,872.2 843.4,863.4 847.8,860.3 C852.2,857.2 857.5,854.8 861.7,855.6 C865.8,856.3 869.5,863.3 872.8,865.0 C876.0,866.7 878.3,865.1 881.1,865.8 C883.9,866.6 885.3,870.8 889.4,869.4 C893.6,868.1 901.0,857.9 906.1,857.5 C911.2,857.1 915.8,864.8 920.0,867.2 C924.2,869.7 928.1,871.4 931.1,872.2 C934.1,873.1 935.3,871.6 938.1,872.2 C940.8,872.9 945.3,875.6 947.8,876.1 C950.2,876.6 951.9,875.2 952.8,875.0" fill="none" stroke="#800000" stroke-width="2.6" stroke-linejoin="round"/>
<path d="M98.8,565.0 H993.9 M98.8,985.0 H993.9" stroke="#484848" stroke-width="1.6" stroke-linecap="square"/>
<path d="M98.8,565.0 V985.0 M993.9,565.0 V985.0" stroke="#000" stroke-width="1.6" stroke-linecap="square"/>
<line x1="91.8" y1="652.8" x2="98.8" y2="652.8" stroke="#222" stroke-width="1.5"/>
<text transform="translate(85.3,663.8) scale(1,1.09)" text-anchor="end" font-size="30" fill="#000">10</text>
<line x1="91.8" y1="763.7" x2="98.8" y2="763.7" stroke="#222" stroke-width="1.5"/>
<text transform="translate(85.3,774.7) scale(1,1.09)" text-anchor="end" font-size="30" fill="#000">5</text>
<line x1="91.8" y1="874.6" x2="98.8" y2="874.6" stroke="#222" stroke-width="1.5"/>
<text transform="translate(85.3,885.6) scale(1,1.09)" text-anchor="end" font-size="30" fill="#000">0</text>
<line x1="91.8" y1="985.5" x2="98.8" y2="985.5" stroke="#222" stroke-width="1.5"/>
<text transform="translate(85.3,996.5) scale(1,1.09)" text-anchor="end" font-size="30" fill="#000">−5</text>
<line x1="256.3" y1="985.0" x2="256.3" y2="992.0" stroke="#222" stroke-width="1.5"/>
<text transform="translate(256.3,1023.7) scale(1,1.09)" text-anchor="middle" font-size="30" fill="#000">0.0</text>
<line x1="546.8" y1="985.0" x2="546.8" y2="992.0" stroke="#222" stroke-width="1.5"/>
<text transform="translate(546.8,1023.7) scale(1,1.09)" text-anchor="middle" font-size="30" fill="#000">0.5</text>
<line x1="837.3" y1="985.0" x2="837.3" y2="992.0" stroke="#222" stroke-width="1.5"/>
<text transform="translate(837.3,1023.7) scale(1,1.09)" text-anchor="middle" font-size="30" fill="#000">1.0</text>
<text transform="translate(546.4,1062.0) scale(1,1.09)" text-anchor="middle" font-size="30" fill="#000">Time (s)</text>
<text x="0" y="0" transform="translate(39.5,773.6) rotate(-90) scale(1,1.09)" text-anchor="middle" font-size="30" fill="#000">µV</text>
<text x="546.4" y="554.0" text-anchor="middle" font-size="31" font-weight="bold" fill="#000">PO7</text>
<rect x="106.1" y="572.6" width="244.2" height="68.4" fill="#fff" stroke="#333" stroke-width="1.4"/>
<line x1="113.3" y1="592.6" x2="139.0" y2="592.6" stroke="#000080" stroke-width="2.3"/>
<line x1="113.3" y1="621.2" x2="139.0" y2="621.2" stroke="#800000" stroke-width="2.3"/>
<text transform="translate(144.6,599.5) scale(1,1.09)" font-size="17.4" fill="#111">grand_avg_cond_body_1</text>
<text transform="translate(144.6,628.1) scale(1,1.09)" font-size="17.4" fill="#111">grand_avg_cond_face_2</text>
<line x1="1012.3" y1="874.6" x2="1907.4" y2="874.6" stroke="#9a9a9a" stroke-width="1.2"/>
<line x1="1169.8" y1="565.0" x2="1169.8" y2="985.0" stroke="#9a9a9a" stroke-width="1.2"/>
<path d="M1052.7,865.8 C1053.9,865.0 1056.9,861.1 1059.7,861.1 C1062.4,861.1 1066.1,864.9 1069.4,865.8 C1072.6,866.8 1075.9,865.0 1079.1,866.7 C1082.4,868.3 1085.6,872.8 1088.8,875.6 C1092.1,878.3 1095.1,882.6 1098.6,883.3 C1102.0,884.0 1106.0,881.6 1109.7,879.7 C1113.4,877.9 1117.5,873.0 1120.8,872.2 C1124.0,871.4 1126.1,874.8 1129.1,875.0 C1132.1,875.2 1135.6,872.8 1138.8,873.3 C1142.1,873.9 1145.1,876.7 1148.6,878.3 C1152.0,880.0 1156.0,882.8 1159.7,883.3 C1163.4,883.9 1167.5,881.9 1170.8,881.7 C1174.0,881.4 1175.4,882.9 1179.1,881.7 C1182.8,880.4 1188.8,875.9 1193.0,874.2 C1197.2,872.5 1201.3,873.5 1204.1,871.4 C1206.9,869.3 1207.4,870.7 1209.7,861.7 C1212.0,852.6 1215.2,833.9 1218.0,817.2 C1220.8,800.6 1223.6,779.7 1226.3,761.7 C1229.1,743.6 1231.9,722.9 1234.7,708.9 C1237.4,694.9 1240.2,680.1 1243.0,677.8 C1245.8,675.5 1248.6,685.2 1251.3,695.0 C1254.1,704.8 1256.9,723.7 1259.7,736.7 C1262.4,749.6 1265.9,765.1 1268.0,772.8 C1270.1,780.4 1270.3,782.7 1272.2,782.5 C1274.0,782.3 1276.6,777.2 1279.1,771.4 C1281.7,765.6 1284.7,755.9 1287.4,747.8 C1290.2,739.7 1293.0,730.0 1295.8,722.8 C1298.6,715.6 1301.2,709.6 1304.1,704.7 C1307.0,699.9 1310.1,694.8 1313.0,693.6 C1315.9,692.5 1318.5,695.3 1321.3,697.8 C1324.2,700.2 1327.0,709.7 1330.2,708.3 C1333.5,706.9 1337.6,693.1 1340.8,689.4 C1343.9,685.8 1346.3,688.8 1349.1,686.7 C1351.9,684.6 1354.2,676.7 1357.4,676.9 C1360.7,677.2 1364.9,685.0 1368.6,688.1 C1372.3,691.1 1376.0,690.1 1379.7,695.0 C1383.4,699.9 1387.1,709.8 1390.8,717.2 C1394.5,724.6 1398.2,732.0 1401.9,739.4 C1405.6,746.9 1409.3,755.4 1413.0,761.7 C1416.7,767.9 1420.9,773.7 1424.1,776.9 C1427.4,780.2 1429.2,776.9 1432.4,781.1 C1435.7,785.3 1439.9,796.6 1443.6,801.9 C1447.3,807.3 1451.0,808.2 1454.7,813.1 C1458.4,817.9 1461.6,826.0 1465.8,831.1 C1469.9,836.2 1475.5,840.8 1479.7,843.6 C1483.8,846.4 1487.1,845.8 1490.8,847.8 C1494.5,849.8 1498.2,853.9 1501.9,855.6 C1505.6,857.2 1508.4,855.8 1513.0,857.5 C1517.6,859.2 1525.0,863.1 1529.7,865.8 C1534.3,868.6 1537.1,871.2 1540.8,874.2 C1544.5,877.2 1548.4,880.5 1551.9,883.9 C1555.4,887.3 1557.9,893.6 1561.6,894.4 C1565.3,895.3 1570.5,888.6 1574.1,888.9 C1577.7,889.2 1580.8,894.5 1583.0,896.4 C1585.2,898.2 1584.9,899.9 1587.2,900.0 C1589.5,900.1 1593.4,896.0 1596.9,897.2 C1600.4,898.5 1603.4,904.9 1608.0,907.5 C1612.6,910.1 1620.5,912.1 1624.7,913.1 C1628.8,914.0 1629.8,912.4 1633.0,913.1 C1636.2,913.8 1640.4,915.5 1644.1,917.2 C1647.8,918.9 1650.8,924.0 1655.2,923.3 C1659.6,922.6 1665.6,913.5 1670.5,913.1 C1675.4,912.6 1680.0,920.6 1684.4,920.6 C1688.8,920.6 1693.0,914.1 1696.9,913.1 C1700.8,912.0 1703.8,915.1 1708.0,914.4 C1712.2,913.8 1717.3,907.7 1721.9,908.9 C1726.5,910.0 1731.1,920.4 1735.8,921.4 C1740.4,922.4 1745.0,916.5 1749.7,915.0 C1754.3,913.5 1759.6,911.8 1763.6,912.2 C1767.5,912.7 1769.6,918.4 1773.3,917.8 C1777.0,917.1 1781.8,908.9 1785.8,908.3 C1789.7,907.8 1792.5,915.7 1796.9,914.4 C1801.3,913.1 1807.3,900.5 1812.2,900.6 C1817.0,900.6 1821.7,915.1 1826.1,915.0 C1830.5,914.9 1835.1,902.8 1838.6,900.0 C1842.0,897.2 1844.1,899.7 1846.9,898.3 C1849.7,896.9 1852.1,892.9 1855.2,891.7 C1858.4,890.4 1864.0,891.0 1865.8,890.8" fill="none" stroke="#000080" stroke-width="2.6" stroke-linejoin="round"/>
<path d="M1052.7,872.8 C1055.3,872.2 1063.1,870.4 1068.0,869.4 C1072.9,868.5 1077.0,868.1 1081.9,867.2 C1086.8,866.4 1093.5,863.8 1097.2,864.4 C1100.9,865.1 1101.6,869.1 1104.1,871.4 C1106.7,873.7 1109.2,878.1 1112.4,878.3 C1115.7,878.6 1119.4,872.3 1123.6,872.8 C1127.7,873.2 1133.3,880.0 1137.4,881.1 C1141.6,882.3 1144.9,879.2 1148.6,879.7 C1152.3,880.3 1156.0,883.7 1159.7,884.4 C1163.4,885.2 1167.1,883.6 1170.8,884.4 C1174.5,885.3 1178.2,889.0 1181.9,889.4 C1185.6,889.9 1189.8,889.3 1193.0,887.2 C1196.2,885.1 1198.6,882.1 1201.3,876.9 C1204.1,871.8 1206.4,871.6 1209.7,856.1 C1212.9,840.6 1217.7,806.6 1220.8,783.9 C1223.8,761.2 1226.2,736.6 1228.1,720.0 C1230.0,703.4 1230.8,693.4 1231.9,684.4 C1233.0,675.4 1233.8,670.8 1234.8,665.9 C1235.8,661.0 1236.7,657.5 1237.8,655.2 C1238.9,652.9 1240.3,651.9 1241.5,651.9 C1242.7,651.9 1244.1,652.9 1245.2,655.2 C1246.3,657.5 1247.1,661.0 1248.1,665.9 C1249.1,670.8 1250.0,675.4 1251.1,684.4 C1252.1,693.4 1253.4,711.8 1254.4,720.0 C1255.4,728.2 1255.1,717.7 1256.9,733.9 C1258.7,750.1 1262.9,796.3 1265.2,817.2 C1267.5,838.1 1268.9,854.8 1270.8,859.4 C1272.6,864.1 1274.0,856.2 1276.3,845.0 C1278.6,833.8 1281.9,811.7 1284.7,792.2 C1287.4,772.8 1290.2,746.9 1293.0,728.3 C1295.8,709.8 1298.0,692.9 1301.3,681.1 C1304.7,669.3 1308.5,660.3 1313.0,657.5 C1317.5,654.7 1323.6,665.2 1328.3,664.4 C1332.9,663.7 1337.3,653.0 1340.8,652.8 C1344.2,652.5 1346.3,659.7 1349.1,663.1 C1351.9,666.4 1354.7,666.5 1357.4,672.8 C1360.2,679.0 1363.0,691.8 1365.8,700.6 C1368.6,709.4 1370.2,718.4 1374.1,725.6 C1378.0,732.7 1385.2,741.5 1389.4,743.6 C1393.6,745.7 1395.6,737.1 1399.1,738.1 C1402.6,739.0 1407.0,746.2 1410.2,749.2 C1413.5,752.2 1415.3,753.3 1418.6,756.1 C1421.8,758.9 1426.4,763.9 1429.7,765.8 C1432.9,767.8 1434.8,764.1 1438.0,767.8 C1441.2,771.5 1445.4,782.4 1449.1,788.1 C1452.8,793.8 1457.0,798.5 1460.2,801.9 C1463.5,805.4 1465.3,805.4 1468.6,808.9 C1471.8,812.4 1476.4,819.5 1479.7,822.8 C1482.9,826.0 1484.8,824.9 1488.0,828.3 C1491.2,831.8 1495.4,840.1 1499.1,843.6 C1502.8,847.1 1506.1,845.7 1510.2,849.2 C1514.4,852.6 1520.4,859.8 1524.1,864.4 C1527.8,869.1 1529.4,871.4 1532.4,876.9 C1535.5,882.5 1538.5,894.4 1542.2,897.8 C1545.9,901.2 1550.3,895.0 1554.7,897.2 C1559.1,899.4 1565.3,908.5 1568.6,911.1 C1571.8,913.8 1571.7,913.3 1574.1,913.1 C1576.5,912.8 1579.7,910.4 1583.0,909.4 C1586.3,908.5 1590.4,908.4 1594.1,907.5 C1597.8,906.6 1601.5,903.9 1605.2,903.9 C1608.9,903.9 1611.9,908.5 1616.3,907.5 C1620.7,906.5 1627.0,899.3 1631.6,897.8 C1636.2,896.2 1639.9,898.4 1644.1,898.3 C1648.3,898.2 1652.2,899.3 1656.6,897.2 C1661.0,895.2 1666.3,887.2 1670.5,886.1 C1674.7,885.0 1677.7,890.5 1681.6,890.8 C1685.5,891.2 1689.2,888.3 1694.1,888.1 C1699.0,887.8 1705.7,891.3 1710.8,889.4 C1715.9,887.6 1720.5,880.1 1724.7,876.9 C1728.8,873.8 1731.1,869.2 1735.8,870.6 C1740.4,871.9 1747.8,883.5 1752.4,885.3 C1757.1,887.0 1759.9,882.0 1763.6,881.1 C1767.3,880.2 1771.4,880.6 1774.7,879.7 C1777.9,878.8 1780.0,876.5 1783.0,875.6 C1786.0,874.6 1789.0,871.2 1792.7,874.2 C1796.4,877.2 1801.3,892.0 1805.2,893.6 C1809.2,895.2 1811.7,886.1 1816.3,883.9 C1821.0,881.7 1828.8,880.9 1833.0,880.6 C1837.2,880.2 1838.3,879.6 1841.3,881.7 C1844.3,883.7 1847.8,891.6 1851.1,892.8 C1854.3,894.0 1858.3,889.4 1860.8,888.9 C1863.2,888.3 1864.9,889.4 1865.8,889.4" fill="none" stroke="#800000" stroke-width="2.6" stroke-linejoin="round"/>
<path d="M1012.3,565.0 H1907.4 M1012.3,985.0 H1907.4" stroke="#484848" stroke-width="1.6" stroke-linecap="square"/>
<path d="M1012.3,565.0 V985.0 M1907.4,565.0 V985.0" stroke="#000" stroke-width="1.6" stroke-linecap="square"/>
<line x1="1005.3" y1="652.8" x2="1012.3" y2="652.8" stroke="#222" stroke-width="1.5"/>
<line x1="1005.3" y1="763.7" x2="1012.3" y2="763.7" stroke="#222" stroke-width="1.5"/>
<line x1="1005.3" y1="874.6" x2="1012.3" y2="874.6" stroke="#222" stroke-width="1.5"/>
<line x1="1005.3" y1="985.5" x2="1012.3" y2="985.5" stroke="#222" stroke-width="1.5"/>
<line x1="1169.8" y1="985.0" x2="1169.8" y2="992.0" stroke="#222" stroke-width="1.5"/>
<text transform="translate(1169.8,1023.7) scale(1,1.09)" text-anchor="middle" font-size="30" fill="#000">0.0</text>
<line x1="1460.3" y1="985.0" x2="1460.3" y2="992.0" stroke="#222" stroke-width="1.5"/>
<text transform="translate(1460.3,1023.7) scale(1,1.09)" text-anchor="middle" font-size="30" fill="#000">0.5</text>
<line x1="1750.8" y1="985.0" x2="1750.8" y2="992.0" stroke="#222" stroke-width="1.5"/>
<text transform="translate(1750.8,1023.7) scale(1,1.09)" text-anchor="middle" font-size="30" fill="#000">1.0</text>
<text transform="translate(1459.8,1062.0) scale(1,1.09)" text-anchor="middle" font-size="30" fill="#000">Time (s)</text>
<text x="1459.8" y="554.0" text-anchor="middle" font-size="31" font-weight="bold" fill="#000">PO8</text>
<rect x="1019.6" y="572.6" width="244.2" height="68.4" fill="#fff" stroke="#333" stroke-width="1.4"/>
<line x1="1026.8" y1="592.6" x2="1052.5" y2="592.6" stroke="#000080" stroke-width="2.3"/>
<line x1="1026.8" y1="621.2" x2="1052.5" y2="621.2" stroke="#800000" stroke-width="2.3"/>
<text transform="translate(1058.1,599.5) scale(1,1.09)" font-size="17.4" fill="#111">grand_avg_cond_body_1</text>
<text transform="translate(1058.1,628.1) scale(1,1.09)" font-size="17.4" fill="#111">grand_avg_cond_face_2</text>
</svg>
</body></html>
